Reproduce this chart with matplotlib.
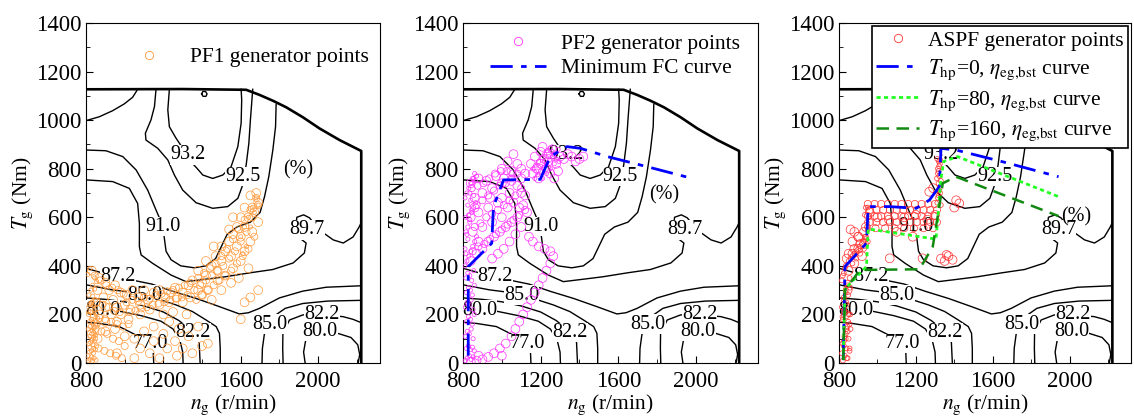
import matplotlib.pyplot as plt
from matplotlib.lines import Line2D

plt.rcParams['font.family'] = ['Liberation Serif', 'DejaVu Serif']
plt.rcParams['mathtext.fontset'] = 'stix'

# ---- efficiency map (%) : contour lines, n_g (r/min) / T_g (Nm)
bound_n = [800, 1300, 1628, 1697, 1766, 1835, 1921, 2007, 2111, 2223, 2223]
bound_T = [1127, 1128, 1125, 1104, 1080, 1053, 1012, 966, 918, 873, 0]
loop_n = [1398, 1404, 1418, 1426, 1420, 1405, 1398]
loop_T = [1108, 1118, 1118, 1108, 1098, 1098, 1108]

c910a_n = [800, 869, 938, 998, 1041, 1067]
c910a_T = [998, 1014, 1039, 1067, 1094, 1127]
c932_n = [1231, 1223, 1231, 1266, 1300, 1340, 1369, 1404, 1455, 1507, 1550, 1585, 1602, 1605, 1602]
c932_T = [1127, 1042, 973, 925, 885, 830, 806, 774, 760, 774, 808, 891, 987, 1083, 1127]
c925_n = [1162, 1154, 1136, 1107, 1110, 1171, 1223, 1257, 1300, 1369, 1455, 1533, 1585, 1607, 1628, 1642, 1650, 1662]
c925_T = [1127, 1056, 1001, 946, 918, 884, 836, 774, 712, 660, 637, 644, 678, 726, 815, 905, 1001, 1127]
c910_n = [800, 903, 990, 1059, 1119, 1162, 1188, 1200, 1204, 1214, 1240, 1290, 1360, 1420, 1470, 1500,
          1530, 1580, 1650, 1700, 1723, 1745, 1766, 1780, 1783]
c910_T = [877, 874, 850, 795, 712, 630, 582, 561, 520, 460, 425, 400, 392, 400, 430, 480,
          530, 560, 580, 620, 685, 767, 877, 973, 1065]
c897_n = [800, 938, 1024, 1067, 1076, 1076, 1085, 1145, 1240, 1317, 1420, 1520, 1645, 1766, 1871, 1929,
          1938, 1912, 1885, 1890, 1925, 1955, 1985, 2006, 2078, 2130, 2181, 2212, 2223]
c897_T = [754, 747, 719, 657, 575, 479, 445, 410, 362, 335, 345, 355, 371, 385, 412, 453,
          494, 510, 560, 600, 610, 598, 570, 548, 507, 494, 519, 560, 578]
c872_n = [800, 880, 967, 1060, 1140, 1250, 1369, 1490, 1593, 1640, 1697, 1800, 1921, 2042, 2223]
c872_T = [390, 372, 358, 338, 325, 295, 266, 232, 202, 207, 225, 268, 296, 312, 318]
c850a_n = [800, 938, 1007, 1102, 1188, 1266, 1350, 1421, 1473, 1490, 1494, 1494]
c850a_T = [322, 301, 294, 280, 259, 239, 212, 177, 150, 122, 60, 0]
c850b_n = [1710, 1712, 1722, 1752, 1785, 1830, 1921, 2050, 2223]
c850b_T = [0, 60, 118, 163, 200, 225, 245, 255, 258]
c822a_n = [800, 900, 1000, 1100, 1200, 1280, 1352, 1385, 1390]
c822a_T = [268, 262, 252, 235, 210, 175, 129, 85, 0]
c822b_n = [1819, 1817, 1818, 1852, 1921, 2019, 2128, 2180, 2223]
c822b_T = [0, 60, 122, 177, 198, 198, 191, 180, 166]
c800a_n = [800, 885, 981, 1085, 1188, 1250, 1285, 1300, 1302]
c800a_T = [222, 218, 212, 195, 172, 140, 95, 45, 0]
c800b_n = [1933, 1925, 1935, 1965, 2011, 2102, 2170, 2205, 2215, 2207]
c800b_T = [0, 45, 90, 120, 129, 122, 105, 75, 35, 0]
c770_n = [800, 869, 972, 1059, 1131, 1148, 1150]
c770_T = [168, 163, 150, 115, 81, 40, 0]

map_lines = [(c910a_n, c910a_T), (c932_n, c932_T), (c925_n, c925_T), (c910_n, c910_T),
             (c897_n, c897_T), (c872_n, c872_T), (c850a_n, c850a_T), (c850b_n, c850b_T),
             (c822a_n, c822a_T), (c822b_n, c822b_T), (c800a_n, c800a_T), (c800b_n, c800b_T),
             (c770_n, c770_T), (loop_n, loop_T)]

lab_text = ['93.2', '92.5', '91.0', '89.7', '87.2', '85.0', '80.0', '82.2', '77.0', '85.0', '82.2', '80.0']
lab_n = [1329, 1611, 1200, 1942, 967, 1102, 885, 1352, 1131, 1752, 2019, 2011]
lab_T = [857, 767, 561, 548, 358, 280, 218, 125, 81, 160, 198, 129]
pct_n = [1899, 1835, 2037]
pct_T = [795, 692, 601]

# ---- PF1 generator points
pf1_small_n = [812, 822, 832, 842, 852, 818, 828, 838, 848, 815, 825, 835, 845, 855, 820, 830, 840, 850,
               812, 822, 832, 842, 817, 827, 837, 847, 857, 813, 823, 833, 843, 853, 819, 829, 839, 849,
               815, 825, 835, 845, 1600, 1620, 1640, 1660, 1680, 1650, 1670, 1690, 1630, 1610,
               810, 820, 830, 840, 850, 860, 815, 825, 835, 845, 855, 810, 820, 830, 840, 850]
pf1_small_T = [10, 15, 8, 20, 12, 45, 50, 40, 55, 80, 85, 75, 90, 70, 110, 120, 105, 115,
               140, 150, 135, 145, 170, 180, 165, 175, 160, 200, 210, 195, 220, 205, 240, 250, 235, 260,
               280, 300, 320, 350, 520, 560, 600, 640, 680, 560, 620, 650, 480, 450,
               30, 65, 95, 125, 155, 185, 215, 245, 275, 305, 335, 365, 390, 25, 60, 100]
pf1_big_n = [830, 870, 900, 860, 920, 950, 980, 890, 940, 1010, 1040, 1070, 1000, 960, 900, 850, 820, 870,
             930, 980, 1030, 1080, 1120, 1150, 1100, 1180, 1210, 1240, 1180, 1130, 1080, 1020, 960, 900,
             850, 830, 860, 900, 950, 1230, 1270, 1260, 1300, 1330, 1300, 1340, 1380,
             1350, 1400, 1420, 1380, 1450, 1420, 1470, 1500, 1480, 1520, 1550, 1500, 1540, 1580, 1560,
             1600, 1580, 1620, 1600, 1640, 1620, 1660, 1650, 1680, 1670, 1690, 1690, 1560, 1540, 1460,
             1430, 1480, 1520, 1560, 1600, 1620, 1650, 1660, 1400, 1450, 1500, 1550, 1590, 1640, 1620,
             1600, 1650, 1690,
             1000, 1050, 1100, 1150, 1200, 1230, 1260, 1280, 1300, 1330, 1320, 1270, 1220, 1180, 1130,
             1080, 1350, 1400, 1430, 1380, 1250, 1200, 960, 1050, 1150]
pf1_big_T = [380, 350, 330, 300, 300, 320, 290, 270, 260, 280, 300, 270, 240, 230, 230, 250, 220, 200,
             200, 200, 220, 240, 260, 290, 300, 300, 270, 290, 240, 220, 200, 180, 170, 170,
             160, 120, 100, 130, 140, 250, 270, 310, 290, 320, 250, 270, 300,
             340, 330, 360, 380, 400, 420, 440, 420, 380, 460, 440, 480, 500, 480, 530,
             520, 560, 560, 600, 600, 640, 640, 690, 700, 620, 580, 660, 600, 550, 480,
             300, 340, 360, 390, 420, 460, 500, 540, 280, 260, 300, 330, 350, 390, 250,
             180, 270, 300,
             110, 100, 130, 150, 120, 170, 90, 140, 60, 110, 200, 30, 60, 20, 40,
             60, 40, 70, 80, 150, 210, 200, 40, 20, 90]
pf1_mid_n = [845, 875, 905, 935, 965, 995, 855, 885, 915, 945, 975, 840, 870, 900, 930, 960, 990, 1020,
             850, 880, 910, 940, 970, 1000, 865, 895, 925, 955, 985,
             1010, 1040, 1070, 1100, 1130, 1160, 1190, 1220, 1250, 1280, 1310, 1340,
             1025, 1055, 1085, 1115, 1145, 1175, 1205, 1235, 1265, 1295, 1325,
             1360, 1390, 1420, 1450, 1480, 1510, 1540, 1570, 1600, 1630, 1660, 1690,
             1380, 1410, 1440, 1470, 1500, 1530, 1560, 1590, 1620, 1650, 1680,
             1370, 1400, 1430, 1460, 1490, 1520, 1550, 1580, 1610, 1640, 1670]
pf1_mid_T = [360, 340, 320, 310, 300, 285, 250, 240, 230, 215, 210, 190, 185, 180, 170, 160, 150, 160,
             140, 130, 120, 100, 90, 70, 60, 50, 40, 30, 20,
             250, 260, 255, 270, 265, 280, 285, 295, 300, 310, 320, 330,
             210, 215, 225, 230, 240, 245, 250, 260, 265, 270, 280,
             300, 320, 340, 360, 380, 400, 430, 460, 500, 540, 600, 650,
             350, 370, 390, 410, 440, 470, 510, 550, 590, 630, 680,
             260, 280, 300, 320, 340, 360, 380, 410, 440, 470, 520]

# ---- PF2 generator points and minimum fuel consumption curve
pf2_small_n = [812, 822, 832, 842, 852, 818, 828, 838, 848, 858, 812, 822, 832, 842, 852, 818, 828, 838,
               848, 858, 812, 822, 832, 842, 852, 818, 828, 838, 848, 858, 815, 825, 835, 845, 855,
               815, 825, 835, 845, 855, 1180, 1200, 1220, 1240, 1260, 1280, 1210, 1230, 1250, 1270,
               810, 820, 830, 840, 850, 860, 870, 815, 825, 835, 845, 855, 865, 810, 820, 830, 840, 850,
               860, 870, 815, 825, 835, 845, 855, 865, 810, 820, 830, 840,
               1160, 1175, 1190, 1205, 1220, 1235, 1250, 1265, 1280, 1295, 1170, 1185, 1200, 1215, 1230,
               1245, 1260, 1275, 1290]
pf2_small_T = [10, 20, 30, 15, 25, 60, 70, 55, 65, 50, 110, 130, 120, 140, 100, 170, 190, 180,
               160, 200, 230, 250, 240, 260, 220, 290, 310, 300, 280, 320, 350, 370, 360, 340, 380,
               600, 650, 700, 740, 760, 790, 810, 830, 850, 870, 840, 760, 780, 800, 820,
               400, 420, 440, 460, 480, 500, 520, 540, 560, 580, 620, 640, 660, 680, 700, 720, 740, 760,
               780, 770, 450, 510, 590, 630, 690, 750, 470, 530, 610, 670,
               800, 815, 830, 845, 860, 875, 885, 860, 840, 830, 760, 775, 790, 805, 820,
               835, 850, 865, 880]
pf2_big_n = [840, 870, 900, 930, 960, 990, 1020, 1050, 1080, 1100, 1070, 1040, 1010, 980, 950, 880, 850,
             900, 950, 1000, 1030, 980, 930, 880, 840, 860, 900, 950, 1000, 1040, 1060, 1090, 840, 880,
             920, 970, 1010, 1050, 1080, 1100, 1120, 1130, 1110, 860, 1000, 940,
             840, 870, 900, 930, 960, 990, 1020, 1050, 1070, 1090, 1110, 1130, 1150, 1170, 1190, 1210,
             1230, 1250, 1265, 1250, 1220, 1190, 1160, 1140, 880, 1000,
             1160, 1180, 1200, 1220, 1240, 1260, 1200, 1170, 1230, 1250, 1270, 1280, 1300, 1320, 1340,
             1360, 1380, 1400, 1420, 1190, 1210, 1240, 1290, 1150,
             1000, 1030, 1060, 1080, 1050, 1100, 1120, 1100]
pf2_big_T = [420, 450, 470, 500, 520, 540, 560, 580, 600, 560, 530, 500, 470, 450, 430, 500, 540,
             560, 580, 600, 640, 660, 640, 620, 600, 680, 700, 720, 740, 700, 660, 640, 740, 760,
             750, 770, 760, 750, 730, 700, 690, 620, 650, 640, 680, 680,
             5, 10, 15, 25, 40, 60, 80, 110, 140, 170, 200, 230, 260, 290, 320, 350,
             380, 410, 440, 460, 470, 480, 500, 520, 30, 30,
             780, 800, 820, 840, 860, 880, 870, 850, 800, 780, 760, 820, 850, 840, 860,
             850, 830, 840, 850, 760, 890, 830, 790, 820,
             800, 830, 860, 820, 790, 800, 780, 760]
pf2_mid_n = [850, 880, 910, 940, 970, 1000, 1030, 1060, 1090, 1120, 860, 890, 920, 950, 980, 1010, 1040,
             1070, 1100, 870, 900, 930, 960, 990, 1020, 1050, 1080, 845, 875, 905, 935, 965, 995, 1025, 1055]
pf2_mid_T = [460, 480, 490, 510, 530, 550, 570, 590, 610, 630, 560, 575, 600, 615, 630, 650, 670,
             690, 720, 650, 670, 690, 710, 730, 740, 760, 780, 720, 730, 740, 760, 780, 790, 790, 780]
minfc_n = [827, 827, 948, 957, 1009, 1198, 1250, 1336, 1405, 1543, 1750, 1957]
minfc_T = [30, 397, 493, 644, 754, 756, 850, 891, 884, 850, 808, 765]

# ---- ASPF generator points and best-efficiency curves for T_hp = 0 / 80 / 160
aspf_small_n = [820, 830, 840, 825, 835, 845, 820, 830, 840, 850, 855, 860, 825, 835, 845, 820, 830, 850,
                840, 850, 870, 890, 910, 930, 940, 950, 945, 935, 950,
                1315, 1320, 1318, 1322, 1315, 1320, 1312, 1325, 1318, 1310, 1326, 1330,
                815, 825, 835, 845, 855, 818, 828, 838, 848, 858, 815, 825, 835, 845, 855, 818, 828,
                838, 848, 858, 815, 825, 835, 845, 855,
                860, 880, 900, 920, 940, 870, 890, 910, 930,
                1312, 1318, 1324, 1330, 1315, 1321, 1327, 935, 945, 955, 940, 950]
aspf_small_T = [10, 30, 60, 90, 120, 150, 180, 210, 240, 100, 60, 140, 270, 300, 330, 360, 390, 200,
                20, 420, 440, 460, 480, 500, 520, 550, 580, 610, 640,
                680, 710, 740, 770, 800, 830, 840, 820, 790, 760, 700, 650,
                40, 70, 100, 130, 160, 190, 220, 250, 280, 310, 340, 370, 400, 20, 50, 80, 110,
                140, 170, 200, 230, 260, 290, 320, 350,
                430, 450, 470, 490, 510, 410, 430, 450, 470,
                660, 690, 720, 750, 780, 810, 835, 520, 560, 600, 640, 500]
aspf_mid_n = [950, 985, 1020, 1055, 1090, 1125, 1160, 1195, 1230, 1265, 1300,
              960, 995, 1030, 1065, 1100, 1135, 1170, 1205, 1240, 1275, 1310,
              950, 985, 1020, 1055, 1090, 1125, 1160, 1195, 1230, 1265, 1300,
              960, 995, 1030, 1065, 1100, 1135, 1170, 1205, 1240, 1275, 1310,
              990, 1040, 1090, 1140, 1190, 1240, 1290]
aspf_mid_T = [655, 655, 655, 655, 655, 655, 655, 655, 655, 655, 655,
              630, 630, 630, 630, 630, 630, 630, 630, 630, 630, 630,
              605, 605, 605, 605, 605, 605, 605, 605, 605, 605, 605,
              580, 580, 580, 580, 580, 580, 580, 580, 580, 580, 580,
              555, 555, 555, 555, 555, 555, 555]
aspf_big_n = [840, 870, 900, 930, 880, 860, 900, 940, 1064, 1235, 1331, 1350, 1370, 1391, 1360,
              1270, 1290, 1426, 1400, 1410, 1184, 1100, 960, 1000, 1060, 1140, 1200, 1260, 1300,
              850, 880, 920, 845, 835, 850, 880, 910, 870, 900, 930]
aspf_big_T = [430, 450, 470, 490, 540, 550, 520, 560, 431, 431, 430, 420, 440, 425, 445,
              705, 720, 657, 640, 670, 520, 540, 620, 600, 590, 600, 610, 590, 610,
              380, 410, 440, 300, 200, 450, 470, 490, 500, 520, 540]
hp0_n = [822, 831, 943, 952, 1064, 1202, 1271, 1322, 1331, 1409, 1650, 1943]
hp0_T = [12, 397, 493, 644, 644, 637, 671, 726, 884, 877, 829, 767]
hp80_n = [822, 831, 943, 952, 1305, 1331, 1345, 1417, 1943]
hp80_T = [12, 305, 397, 552, 510, 760, 830, 850, 685]
hp160_n = [822, 831, 909, 1219, 1288, 1322, 1340, 1409, 1943]
hp160_T = [12, 300, 383, 386, 479, 644, 740, 767, 605]

orange = '#ff9a3c'
magenta = '#ff33ff'
red = '#ff3333'
blue = '#0000ff'
lime = '#22ff22'
dgreen = '#128a12'
dashdot = (8, 3, 2, 3)

fig = plt.figure(figsize=(11.34, 4.17), dpi=100)
ax1 = fig.add_axes([86 / 1134, 54 / 417, 294 / 1134, 340 / 417])
ax2 = fig.add_axes([463 / 1134, 54 / 417, 295 / 1134, 340 / 417])
ax3 = fig.add_axes([839 / 1134, 54 / 417, 292 / 1134, 340 / 417])
axes = [ax1, ax2, ax3]

for i, ax in enumerate(axes):
    ax.plot(bound_n, bound_T, color='k', lw=1.9, zorder=2)
    for xs, ys in map_lines:
        ax.plot(xs, ys, color='k', lw=1.0, zorder=2)
    for s, x, y in zip(lab_text, lab_n, lab_T):
        ax.text(x, y, s, ha='center', va='center', fontsize=14.5, zorder=3,
                bbox=dict(fc='white', ec='none', pad=0.2))
    ax.text(pct_n[i], pct_T[i], '(%)', ha='center', va='center', fontsize=14.5, zorder=3)
    ax.set_xlim(800, 2320)
    ax.set_ylim(0, 1400)
    ax.set_xticks([800, 1200, 1600, 2000])
    ax.set_xticks([1000, 1400, 1800, 2200], minor=True)
    ax.set_yticks(range(0, 1401, 200))
    ax.set_yticks(range(100, 1400, 200), minor=True)
    ax.tick_params(which='both', direction='in', top=False, right=False, labelsize=16.5)
    ax.tick_params(axis='x', pad=6)
    ax.tick_params(axis='y', pad=3)
    ax.tick_params(which='major', length=5)
    ax.tick_params(which='minor', length=3)
    ax.set_xlabel(r'$n_{\rm g}$ (r/min)', fontsize=15.5, labelpad=0)
    ax.set_ylabel(r'$T_{\rm g}$ (Nm)', fontsize=15.5, labelpad=1)

# panel 1
ax1.scatter(pf1_small_n, pf1_small_T, s=9, facecolors='none', edgecolors=orange, linewidths=0.5, zorder=4)
ax1.scatter(pf1_mid_n, pf1_mid_T, s=26, facecolors='none', edgecolors=orange, linewidths=0.5, zorder=4)
ax1.scatter(pf1_big_n, pf1_big_T, s=40, facecolors='none', edgecolors=orange, linewidths=0.5, zorder=4)
h1 = [Line2D([], [], ls='none', marker='o', mfc='none', mec=orange, ms=6, mew=0.6)]
ax1.legend(h1, ['PF1 generator points'], loc='upper right', frameon=False, fontsize=15.5,
           borderaxespad=0.1, handletextpad=0.9, bbox_to_anchor=(1.0, 0.96))

# panel 2
ax2.scatter(pf2_small_n, pf2_small_T, s=9, facecolors='none', edgecolors=magenta, linewidths=0.5, zorder=4)
ax2.scatter(pf2_mid_n, pf2_mid_T, s=26, facecolors='none', edgecolors=magenta, linewidths=0.5, zorder=4)
ax2.scatter(pf2_big_n, pf2_big_T, s=40, facecolors='none', edgecolors=magenta, linewidths=0.5, zorder=4)
ax2.plot(minfc_n, minfc_T, color=blue, lw=2, dashes=dashdot, zorder=5)
h2 = [Line2D([], [], ls='none', marker='o', mfc='none', mec=magenta, ms=6, mew=0.6),
      Line2D([], [], color=blue, lw=2, dashes=dashdot)]
ax2.legend(h2, ['PF2 generator points', 'Minimum FC curve'], loc='upper right', frameon=False,
           fontsize=15.5, borderaxespad=0.1, handlelength=2.6, handletextpad=0.7, labelspacing=0.2,
           bbox_to_anchor=(0.975, 1.0))

# panel 3
ax3.scatter(aspf_small_n, aspf_small_T, s=12, facecolors='none', edgecolors=red, linewidths=0.5, zorder=4)
ax3.scatter(aspf_mid_n, aspf_mid_T, s=26, facecolors='none', edgecolors=red, linewidths=0.5, zorder=4)
ax3.scatter(aspf_big_n, aspf_big_T, s=40, facecolors='none', edgecolors=red, linewidths=0.5, zorder=4)
ax3.plot(hp0_n, hp0_T, color=blue, lw=2, dashes=dashdot, zorder=5)
ax3.plot(hp80_n, hp80_T, color=lime, lw=2, dashes=(1.5, 1.2), zorder=5)
ax3.plot(hp160_n, hp160_T, color=dgreen, lw=1.8, dashes=(5, 3), zorder=5)
h3 = [Line2D([], [], ls='none', marker='o', mfc='none', mec=red, ms=6, mew=0.6),
      Line2D([], [], color=blue, lw=2, dashes=dashdot),
      Line2D([], [], color=lime, lw=2, dashes=(1.5, 1.2)),
      Line2D([], [], color=dgreen, lw=1.8, dashes=(5, 3))]
leg3 = ax3.legend(h3, ['ASPF generator points',
                       r'$T_{\rm hp}$=0, $\eta_{\rm eg{,}bst}$ curve',
                       r'$T_{\rm hp}$=80, $\eta_{\rm eg{,}bst}$ curve',
                       r'$T_{\rm hp}$=160, $\eta_{\rm eg{,}bst}$ curve'],
                  loc='upper right', frameon=True, fancybox=False, edgecolor='k', framealpha=1,
                  fontsize=15.5, borderaxespad=0.15, handlelength=2.0, handletextpad=0.4,
                  labelspacing=0.3, borderpad=0.2)
leg3.get_frame().set_linewidth(1.2)
leg3.set_zorder(10)

fig.savefig('out.png', dpi=100)
